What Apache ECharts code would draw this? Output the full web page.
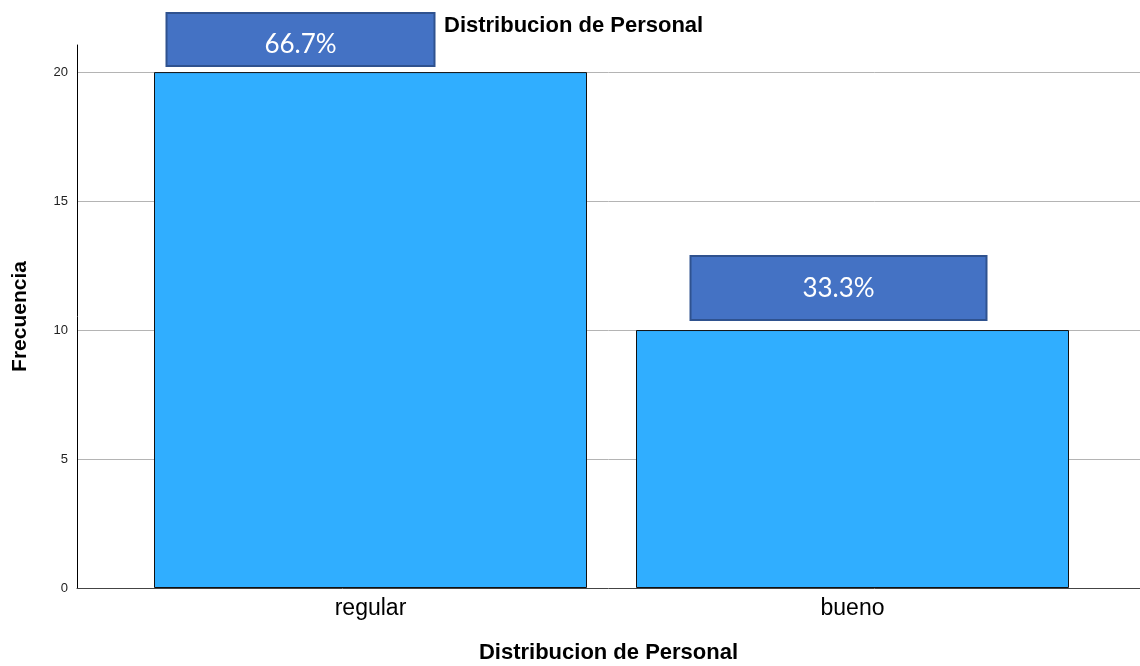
<!DOCTYPE html>
<html lang="es">
<head>
    <meta charset="UTF-8">
    <title>Distribucion de Personal</title>
    <script src="https://cdn.jsdelivr.net/npm/echarts@6/dist/echarts.min.js"></script>
    <style>
        html, body { margin: 0; padding: 0; background: #fff; }
        #chart { width: 1140px; height: 666px; }
    </style>
</head>
<body>
<div id="chart"></div>
<script>
    // datos
    var categorias = ['regular', 'bueno'];
    var frecuencias = [20, 10];
    var porcentajes = ['66.7%', '33.3%'];
    var yTicks = [0, 5, 10, 15, 20];

    var chart = echarts.init(document.getElementById('chart'));

    var yMax = 21.05;
    var fuente = 'Arial, "Liberation Sans", sans-serif';
    // cajas de etiqueta (tamaño/posicion de cada caja)
    var cajas = [
        {w: 266, pad: [18, 0, 7, 0], off: [-70, 0], dist: 7},
        {w: 294, pad: [19, 0, 17, 0], off: [-14, 0], dist: 11}
    ];

    var datos = frecuencias.map(function (v, i) {
        return {
            value: v,
            label: {
                show: true,
                position: 'top',
                distance: cajas[i].dist,
                offset: cajas[i].off,
                formatter: porcentajes[i],
                color: '#fff',
                fontFamily: 'Lato, "Open Sans", sans-serif',
                fontSize: 26,
                lineHeight: 26,
                width: cajas[i].w,
                align: 'center',
                padding: cajas[i].pad,
                backgroundColor: '#4472C4',
                borderColor: '#2F528F',
                borderWidth: 2
            }
        };
    });

    chart.setOption({
        animation: false,
        backgroundColor: '#fff',
        title: {
            text: 'Distribucion de Personal',
            left: 444,
            top: 15,
            padding: 0,
            textStyle: {fontFamily: fuente, fontSize: 22, fontWeight: 'bold', color: '#000'}
        },
        grid: [
            {left: 77, right: 0, top: 45, bottom: 78, containLabel: false, outerBoundsMode: 'none'},
            {left: 129.5, width: 964, top: 45, bottom: 78, containLabel: false, outerBoundsMode: 'none'}
        ],
        xAxis: [
            {
                gridIndex: 0, type: 'value', min: 0, max: 1,
                axisLine: {show: true, onZero: false, lineStyle: {color: '#444', width: 1}},
                axisTick: {show: false}, axisLabel: {show: false}, splitLine: {show: false},
                name: 'Distribucion de Personal',
                nameLocation: 'middle',
                nameGap: 54,
                nameTextStyle: {fontFamily: fuente, fontSize: 22, fontWeight: 'bold', color: '#000'}
            },
            {
                gridIndex: 1, type: 'category', data: categorias,
                axisLine: {show: false}, axisTick: {show: false},
                axisLabel: {margin: 9, fontFamily: fuente, fontSize: 23, color: '#000'}
            }
        ],
        yAxis: [
            {
                gridIndex: 0, type: 'value', min: 0, max: yMax, interval: 5,
                axisLine: {show: true, lineStyle: {color: '#000', width: 1}},
                axisTick: {show: false},
                axisLabel: {
                    margin: 9, fontSize: 13, color: '#222',
                    fontFamily: fuente,
                    showMaxLabel: false,
                    formatter: function (v) { return yTicks.indexOf(v) >= 0 ? String(v) : ''; }
                },
                splitLine: {show: true, showMinLine: false, showMaxLine: false, lineStyle: {color: '#b4b4b4', width: 1}},
                name: 'Frecuencia',
                nameLocation: 'middle',
                nameGap: 46,
                nameRotate: 90,
                nameTextStyle: {fontFamily: fuente, fontSize: 21, fontWeight: 'bold', color: '#000'}
            },
            {
                gridIndex: 1, type: 'value', min: 0, max: yMax,
                show: false, splitLine: {show: false}
            }
        ],
        series: [{
            type: 'bar',
            xAxisIndex: 1,
            yAxisIndex: 1,
            barWidth: 433,
            itemStyle: {color: '#30AEFF', borderColor: '#111', borderWidth: 1},
            data: datos
        }]
    });
</script>
</body>
</html>
